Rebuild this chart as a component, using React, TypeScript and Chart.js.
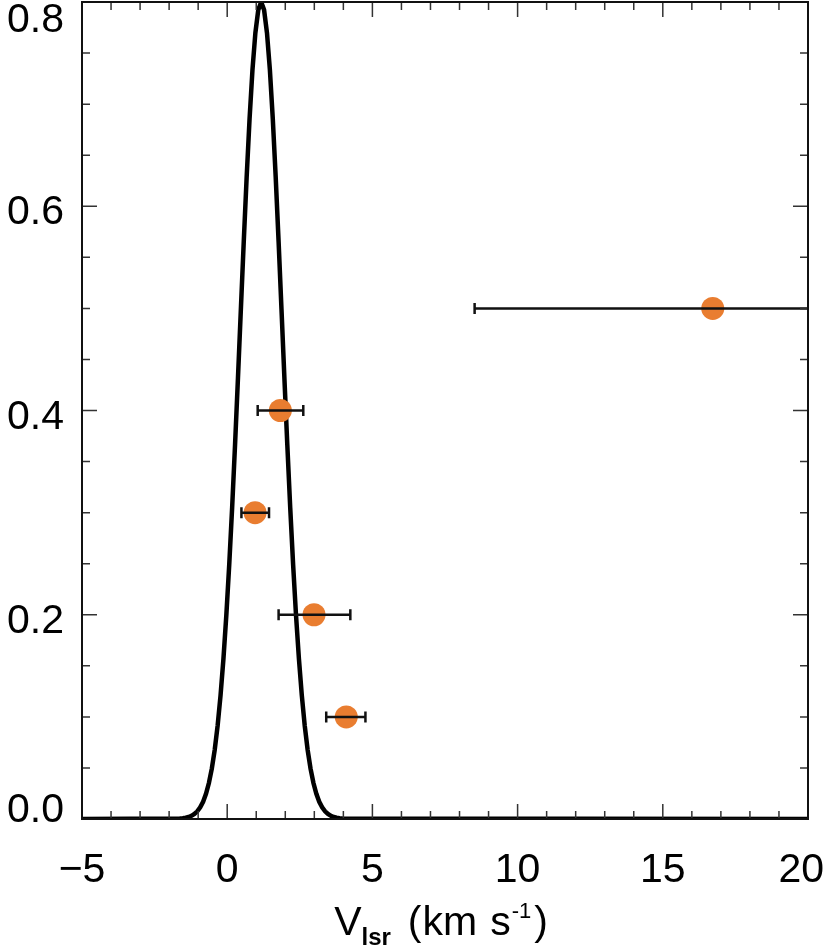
import React, { useEffect, useRef } from "react";
import { Chart, registerables } from "chart.js";

Chart.register(...registerables);

// Model line profile
const curveX = [
  -5, -1.63, -1.53, -1.43, -1.33, -1.23, -1.13, -1.03, -0.93, -0.83, -0.73, -0.63, -0.53, -0.43,
  -0.33, -0.23, -0.13, -0.03, 0.07, 0.17, 0.27, 0.37, 0.47, 0.57, 0.67, 0.77, 0.87, 0.97, 1.07,
  1.17, 1.27, 1.37, 1.47, 1.57, 1.67, 1.77, 1.87, 1.97, 2.07, 2.17, 2.27, 2.37, 2.47, 2.57, 2.67,
  2.77, 2.87, 2.97, 3.07, 3.17, 3.27, 3.37, 3.47, 3.57, 3.67, 3.77, 3.87, 3.97, 20,
];
const curveY = [
  0, 0.0004, 0.0007, 0.0012, 0.0019, 0.0031, 0.0049, 0.0075, 0.0114, 0.0169, 0.0246, 0.0352,
  0.0493, 0.0677, 0.0913, 0.1208, 0.1567, 0.1995, 0.249, 0.3049, 0.3663, 0.4315, 0.4987, 0.5653,
  0.6286, 0.6856, 0.7335, 0.7697, 0.7923, 0.8, 0.7923, 0.7697, 0.7335, 0.6856, 0.6286, 0.5653,
  0.4987, 0.4315, 0.3663, 0.3049, 0.249, 0.1995, 0.1567, 0.1208, 0.0913, 0.0677, 0.0493, 0.0352,
  0.0246, 0.0169, 0.0114, 0.0075, 0.0049, 0.0031, 0.0019, 0.0012, 0.0007, 0.0004, 0,
];

// Measured points with horizontal error bars
const pointX = [16.72, 1.83, 0.96, 2.99, 4.1];
const pointY = [0.5, 0.4, 0.3, 0.2, 0.1];
const errLow = [8.52, 1.05, 0.49, 1.77, 3.41];
const errHigh = [24.9, 2.62, 1.44, 4.24, 4.76];

// Axes
const xMin = -5;
const xMax = 20;
const yMin = 0;
const yMax = 0.8;
const xTickValues = [-5, 0, 5, 10, 15, 20];
const xTickLabels = ["\u22125", "0", "5", "10", "15", "20"];
const yTickValues = [0, 0.2, 0.4, 0.6, 0.8];
const yTickLabels = ["0.0", "0.2", "0.4", "0.6", "0.8"];
const xMinorStep = 1;
const yMinorStep = 0.05;

const FONT = "'Liberation Sans', Arial, sans-serif";
const ORANGE = "#e97d30";

const axesPlugin = {
  id: "idlAxes",
  afterDatasetsDraw(chart: any) {
    const { ctx, chartArea: a, scales } = chart;
    const xs = scales.x;
    const ys = scales.y;

    // error bars (clipped to plot area)
    ctx.save();
    ctx.beginPath();
    ctx.rect(a.left, a.top, a.right - a.left, a.bottom - a.top);
    ctx.clip();
    ctx.strokeStyle = "#111";
    ctx.lineWidth = 2.5;
    for (let i = 0; i < pointX.length; i++) {
      const y = ys.getPixelForValue(pointY[i]);
      const x1 = xs.getPixelForValue(errLow[i]);
      const x2 = xs.getPixelForValue(errHigh[i]);
      ctx.beginPath();
      ctx.moveTo(x1, y);
      ctx.lineTo(x2, y);
      ctx.moveTo(x1, y - 5.5);
      ctx.lineTo(x1, y + 5.5);
      ctx.moveTo(x2, y - 5.5);
      ctx.lineTo(x2, y + 5.5);
      ctx.stroke();
    }
    ctx.restore();

    // ticks (inward, all four sides)
    ctx.save();
    ctx.strokeStyle = "#333";
    ctx.lineWidth = 1.5;
    const majLen = 15;
    const minLen = 8;
    const nx = Math.round((xMax - xMin) / xMinorStep);
    for (let i = 0; i <= nx; i++) {
      const v = xMin + i * xMinorStep;
      const isMajor = xTickValues.some((t) => Math.abs(t - v) < 1e-6);
      const len = isMajor ? majLen : minLen;
      const px = xs.getPixelForValue(v);
      ctx.beginPath();
      ctx.moveTo(px, a.bottom);
      ctx.lineTo(px, a.bottom - len);
      ctx.moveTo(px, a.top);
      ctx.lineTo(px, a.top + len);
      ctx.stroke();
    }
    const ny = Math.round((yMax - yMin) / yMinorStep);
    for (let i = 0; i <= ny; i++) {
      const v = yMin + i * yMinorStep;
      const isMajor = yTickValues.some((t) => Math.abs(t - v) < 1e-6);
      const len = isMajor ? majLen : minLen;
      const py = ys.getPixelForValue(v);
      ctx.beginPath();
      ctx.moveTo(a.left, py);
      ctx.lineTo(a.left + len, py);
      ctx.moveTo(a.right, py);
      ctx.lineTo(a.right - len, py);
      ctx.stroke();
    }
    ctx.restore();

    // frame
    ctx.save();
    ctx.strokeStyle = "#111";
    ctx.lineWidth = 2;
    ctx.strokeRect(a.left, a.top, a.right - a.left, a.bottom - a.top);
    ctx.restore();

    // tick labels
    ctx.save();
    ctx.fillStyle = "#000";
    ctx.font = `41px ${FONT}`;
    ctx.textBaseline = "alphabetic";
    ctx.textAlign = "right";
    for (let i = 0; i < yTickValues.length; i++) {
      const py = ys.getPixelForValue(yTickValues[i]);
      const cy = Math.min(Math.max(py + 3, a.top + 15), a.bottom - 12);
      ctx.fillText(yTickLabels[i], a.left - 18, cy + 15);
    }
    ctx.textAlign = "center";
    const W = chart.width;
    for (let i = 0; i < xTickValues.length; i++) {
      let px = xs.getPixelForValue(xTickValues[i]);
      const w = ctx.measureText(xTickLabels[i]).width;
      if (px + w / 2 > W - 8) px = W - 8 - w / 2;
      ctx.fillText(xTickLabels[i], px, a.bottom + 63);
    }

    // axis title: V_lsr (km s^-1), laid out piece by piece
    const parts = [
      { t: "V", f: `41px ${FONT}`, gap: 0, dy: 0 },
      { t: "lsr", f: `bold 24px ${FONT}`, gap: 0, dy: 10 },
      { t: "(", f: `41px ${FONT}`, gap: 17, dy: 0 },
      { t: "km", f: `41px ${FONT}`, gap: 1, dy: 0 },
      { t: "s", f: `41px ${FONT}`, gap: 13, dy: 0 },
      { t: "-1", f: `22px ${FONT}`, gap: 1, dy: -17 },
      { t: ")", f: `41px ${FONT}`, gap: 3, dy: 0 },
    ];
    let total = 0;
    const widths: number[] = [];
    for (const p of parts) {
      ctx.font = p.f;
      const w = ctx.measureText(p.t).width;
      widths.push(w);
      total += w + p.gap;
    }
    const cx = 441;
    let x = cx - total / 2;
    const base = a.bottom + 116;
    ctx.textAlign = "left";
    parts.forEach((p, i) => {
      x += p.gap;
      ctx.font = p.f;
      ctx.fillText(p.t, x, base + p.dy);
      x += widths[i];
    });
    ctx.restore();
  },
};

export default function App() {
  const ref = useRef<HTMLCanvasElement | null>(null);

  useEffect(() => {
    if (!ref.current) return;
    const chart = new Chart(ref.current, {
      type: "scatter",
      data: {
        datasets: [
          {
            type: "scatter",
            data: pointX.map((x, i) => ({ x, y: pointY[i] })),
            backgroundColor: ORANGE,
            borderWidth: 0,
            pointRadius: 11.5,
            order: 0,
          } as any,
          {
            type: "line",
            data: curveX.map((x, i) => ({ x, y: curveY[i] })),
            borderColor: "#000",
            borderWidth: 4.5,
            pointRadius: 0,
            tension: 0,
            fill: false,
            order: 1,
          } as any,
        ],
      },
      options: {
        responsive: false,
        animation: false,
        layout: { autoPadding: false, padding: { left: 82, right: 24, top: 2, bottom: 130 } },
        plugins: {
          legend: { display: false },
          tooltip: { enabled: false },
          title: { display: false },
        },
        events: [],
        scales: {
          x: { type: "linear", min: xMin, max: xMax, display: false },
          y: { type: "linear", min: yMin, max: yMax, display: false },
        },
      },
      plugins: [axesPlugin],
    });
    return () => chart.destroy();
  }, []);

  return (
    <div style={{ position: "absolute", left: 0, top: 0, width: 832, height: 949, background: "#fff" }}>
      <canvas ref={ref} width={832} height={949} style={{ display: "block" }} />
    </div>
  );
}
